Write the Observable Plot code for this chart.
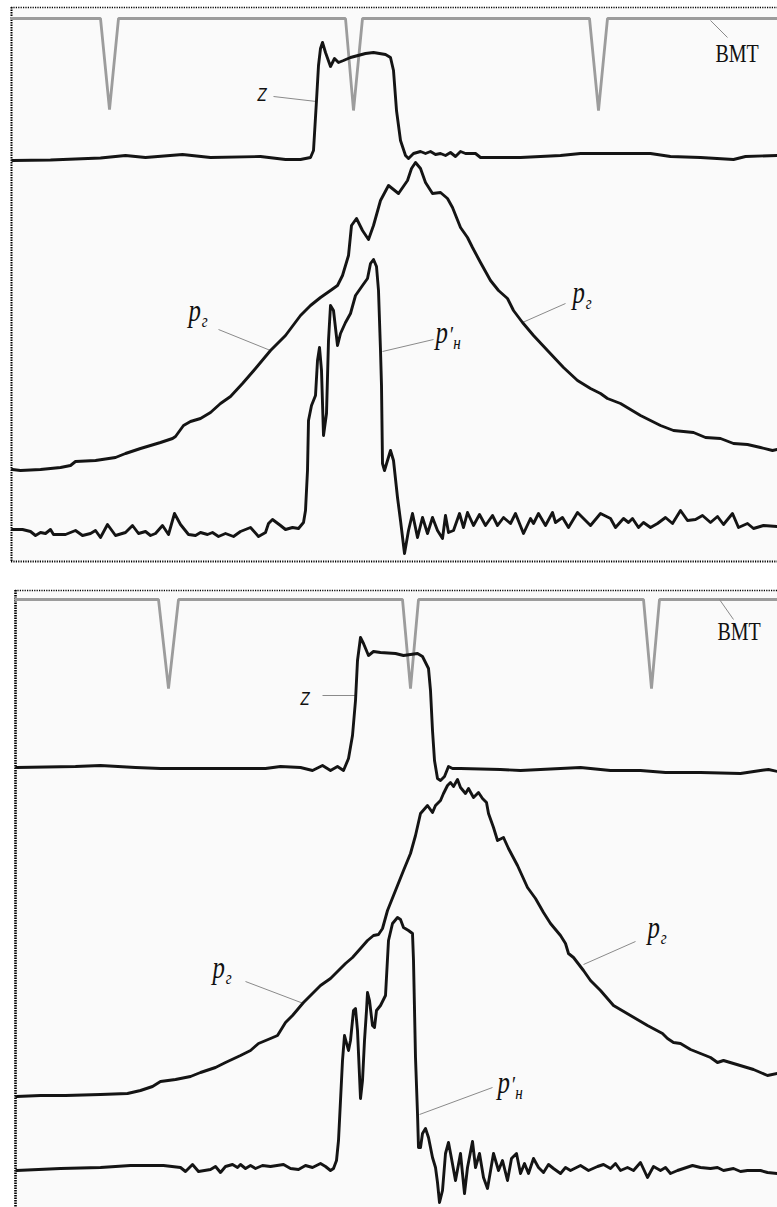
<!DOCTYPE html>
<html><head><meta charset="utf-8">
<script src="https://cdn.jsdelivr.net/npm/d3@7"></script>
<script src="https://cdn.jsdelivr.net/npm/@observablehq/plot@0.6"></script>
<style>html,body{margin:0;padding:0;background:#fff;overflow:hidden}svg{display:block}</style>
</head><body><div id="chart"></div>
<script>
// ---------- Panel 1 (upper oscillogram) : time samples x, amplitude v ----------
const p1BmtX = [11,100,109,118,345,353,362,589,598,607,777];
const p1BmtV = [547,547,456,547,547,455,547,547,455,547,547];

const p1ZX = [12,50,100,125,145,182,210,260,285,300,310,313,316,318,320,322,325,330,334,338,343,350,365,373,385,390,393,396,400,405,408,413,420,425,430,435,440,445,450,455,460,465,475,480,520,560,580,620,650,670,700,733,745,777];
const p1ZV = [405,405.5,407.5,410,408,411,408,409,406,406,408,415,465,500,517,523,513,499,507,503,505,508,512,513,511,508,495,455,425,410,407,412,414,412,414,411,412,410,413,409,414,412,412,408,408,410,412,412,412,409,408,406,409,410];

const p1PgX = [12,20,40,60,70,75,95,115,125,140,150,160,172,175,183,190,200,210,220,230,242,255,270,285,300,310,320,330,337,342,348,351,356,362,368,373,380,388,398,407,411,415,420,425,432,440,447,452,460,467,472,480,490,498,507,513,522,533,547,563,577,590,600,607,620,640,660,673,693,705,720,733,747,760,772,777];
const p1PgV = [96,95,96,98,100,104,105,108,112,117,120,123,127,129,140,144,147,153,162,169,182,197,215,230,250,260,268,275,280,290,310,340,347,335,326,340,365,380,372,385,397,403,397,383,372,373,367,358,338,328,318,303,285,275,267,255,243,230,215,198,185,177,172,167,162,150,140,135,133,128,127,122,121,118,115,116];

const p1PnX = [12,22,30,35,40,45,50,53,65,75,82,90,95,100,107,115,125,132,138,145,150,155,162,168,174,180,188,195,200,207,212,218,225,233,240,250,258,265,268,272,280,285,292,298,303,305,307,308,311,315,317,319,321,323,326,328,330,333,337,340,345,350,355,362,367,370,373,376,378,380,381,382,384,390,393,397,400,404,408,412,417,422,427,432,437,442,445,448,453,459,463,467,473,479,485,492,497,503,510,515,523,530,533,538,545,552,555,562,568,577,590,600,610,615,623,628,632,638,643,650,657,665,672,680,687,695,702,710,717,723,732,738,747,753,763,777];
const p1PnV = [36,36,34,30,33,32,36,31,31,35,30,32,35,28,41,30,33,40,32,34,30,32,40,31,52,41,31,30,33,31,33,29,32,29,34,38,29,33,42,46,40,36,38,37,43,55,95,145,160,170,205,218,195,130,152,225,260,255,220,232,243,252,270,280,287,302,306,299,275,215,180,102,95,115,105,68,45,12,35,52,28,48,32,48,35,27,50,33,35,52,38,53,40,51,40,50,40,48,42,52,32,47,42,52,40,53,43,48,38,53,40,52,47,38,47,43,47,38,43,38,42,48,42,55,45,46,50,43,49,41,52,38,42,37,40,39];

// ---------- Panel 2 (lower oscillogram) ----------
const p2BmtX = [15,158,168,178,402,410,418,643,651,659,777];
const p2BmtV = [608,608,519,608,608,519,608,608,519,608,608];

const p2ZX = [16,75,100,135,160,200,265,280,300,312,322,330,337,343,348,352,355,357,360,363,368,373,380,395,403,410,417,422,428,430,432,434,437,440,444,448,452,460,500,520,560,580,610,640,665,700,740,760,768,777];
const p2ZV = [440,441,442,440,439,439,439,441,440,437,442,437,441,437,449,472,507,547,570,564,552,556,555,554,552,553,554,551,539,517,477,447,429,427,431,441,439,439,438,437,439,440,437,437,435,435,434,437,438,436];

const p2PgX = [16,40,65,100,127,140,152,160,175,190,200,215,225,240,250,258,270,277,285,292,303,312,320,330,338,345,352,360,367,373,378,382,387,395,403,410,415,420,427,432,435,440,443,447,450,453,457,460,465,468,473,478,482,486,488,493,497,503,508,517,527,535,543,550,560,565,568,573,583,590,600,613,630,647,662,667,673,680,690,700,710,717,723,733,743,753,767,777];
const p2PgV = [111,112,112,113,114,117,121,126,128,131,135,140,145,152,157,164,169,172,185,192,205,214,222,229,237,244,250,259,267,272,273,279,297,317,337,354,372,394,402,395,402,407,414,422,425,421,428,420,414,419,410,415,409,405,394,380,367,370,359,342,320,309,295,284,272,264,254,250,237,227,217,202,192,182,174,169,165,164,158,154,150,145,147,144,141,138,132,134];

const p2PnX = [16,60,100,130,163,180,185,192,198,210,215,220,225,232,237,240,245,250,255,262,270,283,290,298,305,312,320,325,330,333,336,338,340,342,344,348,350,353,355,357,360,362,364,366,367,369,372,374,376,380,385,388,392,397,400,403,408,412,413,415,417,418,420,422,425,428,432,435,437,439,442,445,448,451,455,460,464,467,472,475,479,483,487,493,498,502,507,511,516,520,524,528,533,538,543,548,553,560,565,570,580,588,597,603,610,615,620,627,633,640,647,653,660,665,670,677,692,700,710,717,723,733,740,747,760,767,777];
const p2PnV = [37,39,40,42,42,40,36,43,36,38,41,35,41,43,40,43,39,42,39,42,41,43,39,38,42,40,44,41,37,39,47,67,107,147,172,157,167,197,199,177,109,127,167,197,215,207,182,180,197,202,212,267,284,290,288,280,277,274,247,150,94,60,60,74,79,70,50,40,25,5,17,54,65,49,27,54,14,40,66,40,54,30,19,54,37,47,27,49,54,34,44,34,49,40,35,43,39,34,40,37,42,37,41,43,39,44,37,40,37,45,30,41,37,40,34,37,42,40,39,40,37,39,36,37,37,35,34];

// ---------- Annotations ----------
const p1LabelX = [188,435,572];       const p1LabelV = [245,223,263];  const p1LabelT = ["pг","p′н","pг"];
const p1TagX = [257,715];             const p1TagV = [465,504];        const p1TagT = ["Z","ВМТ"];
const p1LeadX1 = [710,273,218,433,565]; const p1LeadV1 = [545,469,236,226,262];
const p1LeadX2 = [727,316,270,382,522]; const p1LeadV2 = [528,464,215,214,243];

const p2LabelX = [212,647,497];       const p2LabelV = [230,270,115];  const p2LabelT = ["pг","pг","p′н"];
const p2TagX = [300,717];             const p2TagV = [503,568];        const p2TagT = ["Z","ВМТ"];
const p2LeadX1 = [719,322,245,635,492]; const p2LeadV1 = [608,512,226,266,120];
const p2LeadX2 = [733,355,303,583,419]; const p2LeadV2 = [588,512,204,243,93];

const rows = (xs, vs, ts) => xs.map((x, i) => ({x, v: vs[i], t: ts ? ts[i] : null}));
const links = (x1, v1, x2, v2) => x1.map((x, i) => ({x1: x, v1: v1[i], x2: x2[i], v2: v2[i]}));

const SERIF = "'Liberation Serif', 'DejaVu Serif', serif";
const SANS = "'DejaVu Sans', sans-serif";

function panel(cfg) {
  const traceStyle = {x: "x", y: "v", stroke: "#141414", strokeWidth: 2.9, strokeLinejoin: "round", strokeLinecap: "round"};
  const txt = {x: "x", y: "v", text: "t", textAnchor: "start", lineAnchor: "bottom", fill: "#111"};
  const svg = Plot.plot({
    width: 777, height: cfg.height,
    marginLeft: cfg.marginLeft, marginTop: cfg.marginTop, marginBottom: cfg.marginBottom, marginRight: 0,
    x: {domain: cfg.xDomain, axis: null},
    y: {domain: cfg.yDomain, axis: null},
    style: {background: "#ffffff", overflow: "visible"},
    marks: [
      Plot.frame({fill: "#fafafa", stroke: "none"}),
      Plot.ruleY([cfg.yDomain[1]], {stroke: "#000", strokeWidth: 1.3, strokeDasharray: "1.2,1.2"}),
      cfg.bottomBorder ? Plot.ruleY([cfg.yDomain[0]], {stroke: "#000", strokeWidth: 2, strokeDasharray: "1.2,1.2"}) : null,
      Plot.ruleX([cfg.xDomain[0]], {stroke: "#000", strokeWidth: cfg.leftWidth, strokeDasharray: "1.5,1"}),
      Plot.line(cfg.bmt, {x: "x", y: "v", stroke: "#9c9c9c", strokeWidth: 2.8, strokeLinejoin: "miter"}),
      Plot.link(cfg.leaders, {x1: "x1", y1: "v1", x2: "x2", y2: "v2", stroke: "#8a8a8a", strokeWidth: 1}),
      ...cfg.traces.map(t => Plot.line(t, traceStyle)),
      Plot.text(cfg.labels, {...txt, fontStyle: "italic", fontSize: 31, fontFamily: SERIF}),
      Plot.text(cfg.tags.filter(d => d.t === "Z"), {...txt, fontStyle: "italic", fontSize: 17, fontFamily: SANS}),
      Plot.text(cfg.tags.filter(d => d.t !== "Z"), {...txt, fontSize: 25, fontFamily: SERIF})
    ].filter(Boolean)
  });
  // fonts, narrowed lettering (like the squeezed original) and sub/superscripts
  d3.select(svg).selectAll("text").each(function() {
    const s = this.textContent;
    const tr = this.getAttribute("transform") || "";
    this.setAttribute("transform", tr + " scale(0.8,1)");
    if (s === "Z") { this.style.fontFamily = SANS; return; }
    this.style.fontFamily = SERIF;
    if (s[0] === "p") {
      const sel = d3.select(this);
      sel.text(null);
      sel.append("tspan").text("p");
      const rest = s.slice(1);
      if (rest[0] === "′") {
        sel.append("tspan").attr("dx", 1).attr("dy", -1).attr("font-size", 24).text("′");
        sel.append("tspan").attr("dx", 0.5).attr("dy", 7).attr("font-size", 19).text(rest.slice(1));
      } else {
        sel.append("tspan").attr("dx", 1).attr("dy", 6).attr("font-size", 19).text(rest);
      }
    }
  });
  return svg;
}

const root = document.getElementById("chart");
root.appendChild(panel({
  height: 578, marginLeft: 11, marginTop: 7, marginBottom: 17,
  xDomain: [11, 777], yDomain: [4, 558], leftWidth: 2, bottomBorder: true,
  bmt: rows(p1BmtX, p1BmtV),
  traces: [rows(p1ZX, p1ZV), rows(p1PgX, p1PgV), rows(p1PnX, p1PnV)],
  leaders: links(p1LeadX1, p1LeadV1, p1LeadX2, p1LeadV2),
  labels: rows(p1LabelX, p1LabelV, p1LabelT),
  tags: rows(p1TagX, p1TagV, p1TagT)
}));
root.appendChild(panel({
  height: 629, marginLeft: 15, marginTop: 12, marginBottom: 0,
  xDomain: [15, 777], yDomain: [0, 617], leftWidth: 2.6, bottomBorder: false,
  bmt: rows(p2BmtX, p2BmtV),
  traces: [rows(p2ZX, p2ZV), rows(p2PgX, p2PgV), rows(p2PnX, p2PnV)],
  leaders: links(p2LeadX1, p2LeadV1, p2LeadX2, p2LeadV2),
  labels: rows(p2LabelX, p2LabelV, p2LabelT),
  tags: rows(p2TagX, p2TagV, p2TagT)
}));
</script></body></html>
